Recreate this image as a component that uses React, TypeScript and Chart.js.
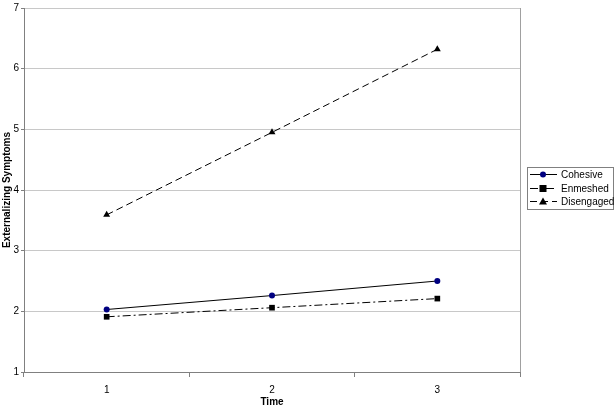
import React, { useEffect, useRef } from "react";
import { Chart, registerables } from "chart.js";

Chart.register(...registerables);

const timeLabels = ["1", "2", "3"];
const cohesive = [2.03, 2.26, 2.5];
const enmeshed = [1.91, 2.06, 2.21];
const disengaged = [3.59, 4.95, 6.32];
const seriesNames = ["Cohesive", "Enmeshed", "Disengaged"];
const yTitle = "Externalizing Symptoms";
const xTitle = "Time";

const FONT = "'Liberation Sans', Arial, sans-serif";

const dashes = [[], [8, 3, 2, 3], [7, 4]];
const pointStyles = ["circle", "rect", "triangle"];
const pointColors = ["#000080", "#000000", "#000000"];

const customPlugin = {
  id: "custom",
  afterDraw(chart: any) {
    const ctx = chart.ctx;
    const ca = chart.chartArea;
    ctx.save();
    // right border of plot area
    ctx.strokeStyle = "#a0a0a0";
    ctx.lineWidth = 1;
    ctx.beginPath();
    ctx.moveTo(Math.round(ca.right) + 0.5, ca.top);
    ctx.lineTo(Math.round(ca.right) + 0.5, ca.bottom);
    ctx.stroke();

    // legend
    const bx = 527.5, by = 167.5, bw = 86, bh = 42;
    ctx.strokeStyle = "#808080";
    ctx.strokeRect(bx, by, bw, bh);
    ctx.font = `10px ${FONT}`;
    ctx.textBaseline = "middle";
    ctx.fillStyle = "#000";
    const rows = [174.5, 188.5, 201.5];
    seriesNames.forEach((name, i) => {
      const y = rows[i];
      ctx.strokeStyle = "#000";
      ctx.lineWidth = 1;
      ctx.setLineDash(dashes[i]);
      ctx.beginPath();
      ctx.moveTo(530, y);
      ctx.lineTo(557, y);
      ctx.stroke();
      ctx.setLineDash([]);
      ctx.fillStyle = pointColors[i];
      const mx = 543, my = y;
      if (i === 0) {
        ctx.beginPath();
        ctx.arc(mx, my, 3, 0, Math.PI * 2);
        ctx.fill();
      } else if (i === 1) {
        ctx.fillRect(mx - 3.5, my - 3.5, 7, 7);
      } else {
        ctx.beginPath();
        ctx.moveTo(mx, my - 4);
        ctx.lineTo(mx + 4, my + 3);
        ctx.lineTo(mx - 4, my + 3);
        ctx.closePath();
        ctx.fill();
      }
      ctx.fillStyle = "#000";
      ctx.textAlign = "left";
      ctx.fillText(name, 561, y + 0.5);
    });
    ctx.restore();
  },
};

export default function App() {
  const ref = useRef<HTMLCanvasElement>(null);
  useEffect(() => {
    const data = [cohesive, enmeshed, disengaged];
    const chart = new Chart(ref.current!, {
      type: "line",
      data: {
        labels: timeLabels,
        datasets: seriesNames.map((name, i) => ({
          label: name,
          data: data[i],
          borderColor: "#000",
          borderWidth: 1,
          borderDash: dashes[i],
          pointStyle: pointStyles[i] as any,
          pointRadius: i === 0 ? 3 : 4,
          pointBackgroundColor: pointColors[i],
          pointBorderColor: pointColors[i],
          pointBorderWidth: 0,
          fill: false,
          tension: 0,
        })),
      },
      options: {
        responsive: false,
        animation: false,
        layout: { padding: { left: 0, right: 96, top: 6, bottom: 0 } },
        plugins: {
          legend: { display: false },
          tooltip: { enabled: false },
        },
        scales: {
          x: {
            type: "category",
            offset: true,
            grid: {
              offset: true,
              drawOnChartArea: false,
              drawTicks: true,
              tickLength: 5,
              color: "#808080",
            },
            border: { color: "#808080" },
            ticks: { color: "#000", font: { family: FONT, size: 10 }, padding: 7 },
            title: {
              display: true,
              text: xTitle,
              color: "#000",
              font: { family: FONT, size: 10, weight: "bold" },
              padding: { top: 3, bottom: 0 },
            },
            afterFit(scale: any) {
              scale.height = 36;
            },
          },
          y: {
            min: 1,
            max: 7,
            ticks: { stepSize: 1, color: "#000", font: { family: FONT, size: 10 }, padding: 2 },
            grid: { color: "#c8c8c8", tickLength: 3, tickColor: "#808080" },
            border: { color: "#808080" },
            title: {
              display: true,
              text: yTitle,
              color: "#000",
              font: { family: FONT, size: 10, weight: "bold" },
              padding: { top: 1, bottom: 0 },
            },
            afterFit(scale: any) {
              scale.width = 24;
            },
          },
        },
      },
      plugins: [customPlugin],
    });
    return () => chart.destroy();
  }, []);
  return (
    <div style={{ position: "fixed", left: 0, top: 0, width: 616, height: 408, background: "#fff" }}>
      <canvas ref={ref} width={616} height={408} style={{ width: 616, height: 408, display: "block" }} />
    </div>
  );
}
